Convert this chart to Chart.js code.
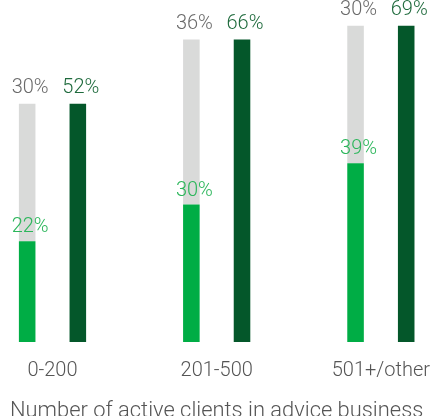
<!DOCTYPE html>
<html>
<head>
<meta charset="utf-8">
<script src="https://cdn.jsdelivr.net/npm/chart.js@4"></script>
<style>
  html, body { margin:0; padding:0; background:#fff; }
  #wrap { width:447px; height:416px; }
</style>
</head>
<body>
<div id="wrap"><canvas id="ch"></canvas></div>
<script>
'use strict';

/* ── data ── */
const groups    = ['0-200', '201-500', '501+/other'];
const greenVals = [22, 30, 39];
const grayVals  = [30, 36, 30];
const darkVals  = [52, 66, 69];
const axisTitle = 'Number of active clients in advice business';

/* ── colours ── */
const C = { green:'#00ad45', gray:'#d9dad9', dark:'#04572a',
            greenTxt:'#2bb65a', grayTxt:'#6a6a6a', darkTxt:'#1e6a3c', axis:'#555' };
const FONT = 'Roboto, "Liberation Sans", sans-serif';

/* ── value labels above each bar + axis caption ── */
const barLabels = {
  id:'barLabels',
  afterDatasetsDraw(chart) {
    const ctx = chart.ctx;
    ctx.save();
    ctx.font = '300 20px ' + FONT;
    ctx.textAlign = 'center';
    ctx.textBaseline = 'alphabetic';
    chart.data.datasets.forEach((ds, i) => {
      chart.getDatasetMeta(i).data.forEach((bar, j) => {
        ctx.fillStyle = ds.labelColor;
        ctx.fillText(ds.data[j] + '%', bar.x + 3, bar.y - ds.labelGap);
      });
    });
    // caption sits at the very bottom, slightly cut like the original
    const a = chart.chartArea;
    ctx.font = '300 21.9px ' + FONT;
    ctx.fillStyle = C.axis;
    ctx.fillText(axisTitle, (a.left + a.right) / 2, chart.height + 1);
    ctx.restore();
  }
};

new Chart(document.getElementById('ch'), {
  type:'bar',
  data:{
    labels:groups,
    datasets:[
      { data:greenVals, backgroundColor:C.green, stack:'a', labelColor:C.greenTxt, labelGap:9 },
      { data:grayVals,  backgroundColor:C.gray,  stack:'a', labelColor:C.grayTxt,  labelGap:11 },
      { data:darkVals,  backgroundColor:C.dark,  stack:'b', labelColor:C.darkTxt,  labelGap:11 }
    ].map(d => ({ ...d, categoryPercentage:0.617, barPercentage:0.327, clip:false, borderWidth:0 }))
  },
  options:{
    responsive:true, maintainAspectRatio:false, animation:false,
    layout:{ padding:{ left:52.5, right:57.5, top:12, bottom:16 } },
    plugins:{ legend:{ display:false }, tooltip:{ enabled:false } },
    scales:{
      x:{ stacked:true, offset:false,
          grid:{ display:false, drawTicks:false }, border:{ display:false },
          ticks:{ color:C.axis, padding:17, autoSkip:false, maxRotation:0,
                  font:{ family:FONT, size:20, weight:300 } } },
      y:{ stacked:true, display:false, min:0, max:72 }
    }
  },
  plugins:[barLabels]
});
</script>
</body>
</html>
